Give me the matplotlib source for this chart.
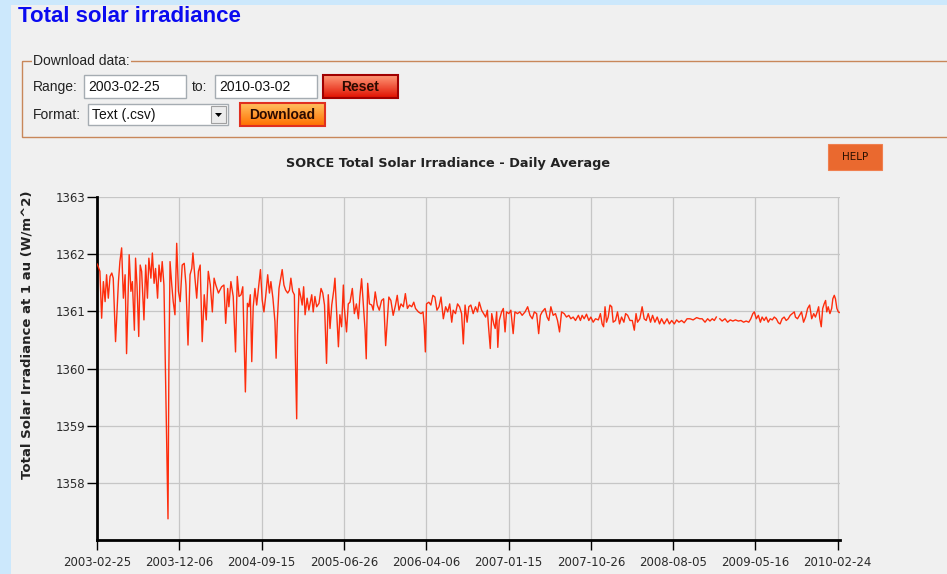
import numpy as np
import pandas as pd
import matplotlib
matplotlib.use('Agg')
import matplotlib.pyplot as plt
from matplotlib.colors import to_rgb
from matplotlib.patches import Rectangle, Polygon

# SORCE TSI daily average (days after 2003-02-25, W/m^2)
start = pd.Timestamp('2003-02-25')
end = pd.Timestamp('2010-03-02')

days = [
    0, 2, 10, 16, 22, 28, 33, 39, 45, 51, 56, 64, 74, 79, 85, 91, 97, 102, 108, 111,
    117, 122, 129, 133, 138, 144, 149, 154, 162, 168, 174, 179, 186, 191, 197, 202, 209, 214, 220, 225,
    231, 236, 240, 245, 248, 252, 258, 263, 269, 275, 281, 287, 294, 301, 307, 314, 321, 327, 331, 338,
    344, 350, 356, 363, 370, 377, 384, 391, 398, 404, 410, 419, 430, 438, 444, 451, 455, 462, 470, 478,
    484, 490, 497, 503, 512, 519, 524, 529, 534, 539, 545, 551, 557, 564, 570, 576, 582, 589, 595, 600,
    607, 614, 618, 622, 628, 634, 639, 645, 651, 658, 664, 669, 675, 681, 684, 689, 692, 697, 704, 708,
    713, 718, 725, 731, 741, 746, 752, 758, 766, 773, 779, 785, 792, 798, 804, 810, 817, 821, 827, 833,
    838, 844, 850, 853, 861, 867, 873, 881, 888, 895, 902, 907, 913, 919, 925, 929, 934, 940, 948, 953,
    960, 967, 974, 982, 989, 996, 1002, 1007, 1014, 1022, 1030, 1036, 1042, 1049, 1057, 1064, 1071, 1078, 1086, 1093,
    1099, 1109, 1118, 1125, 1129, 1133, 1137, 1145, 1152, 1159, 1166, 1173, 1180, 1187, 1195, 1203, 1210, 1217, 1224, 1229,
    1237, 1244, 1251, 1258, 1264, 1270, 1277, 1283, 1290, 1298, 1306, 1313, 1319, 1327, 1334, 1341, 1347, 1351, 1357, 1362,
    1369, 1374, 1379, 1383, 1388, 1396, 1402, 1408, 1413, 1421, 1428, 1436, 1442, 1451, 1459, 1467, 1477, 1486, 1494, 1502,
    1509, 1517, 1524, 1530, 1536, 1546, 1553, 1559, 1566, 1574, 1582, 1589, 1596, 1603, 1612, 1620, 1628, 1635, 1643, 1651,
    1661, 1668, 1674, 1681, 1689, 1697, 1704, 1712, 1720, 1730, 1737, 1743, 1748, 1753, 1758, 1764, 1770, 1776, 1781, 1789,
    1796, 1803, 1810, 1818, 1824, 1831, 1839, 1847, 1854, 1860, 1865, 1873, 1881, 1888, 1895, 1902, 1910, 1917, 1925, 1933,
    1941, 1948, 1957, 1967, 1975, 1983, 1992, 2000, 2008, 2017, 2026, 2036, 2046, 2057, 2069, 2080, 2088, 2098, 2107, 2115,
    2123, 2130, 2137, 2141, 2149, 2157, 2167, 2176, 2185, 2194, 2203, 2213, 2222, 2231, 2240, 2249, 2256, 2263, 2268, 2275,
    2282, 2289, 2295, 2302, 2309, 2316, 2323, 2330, 2337, 2344, 2351, 2357, 2364, 2371, 2378, 2385, 2392, 2399, 2406, 2410,
    2417, 2424, 2431, 2438, 2445, 2452, 2459, 2466, 2473, 2479, 2485, 2490, 2494, 2499, 2504, 2509, 2514, 2518, 2523, 2529,
    2535, 2539, 2544, 2548, 2553, 2558, 2561,
]

tsi = [
    1361.83, 1361.81, 1361.70, 1360.88, 1361.52, 1361.17, 1361.64, 1361.23, 1361.61, 1361.67,
    1361.58, 1360.47, 1361.52, 1361.87, 1362.11, 1361.23, 1361.64, 1360.26, 1361.46, 1361.99,
    1361.35, 1361.52, 1360.67, 1361.93, 1361.46, 1360.56, 1361.81, 1361.70, 1360.85, 1361.81,
    1361.23, 1361.93, 1361.58, 1362.02, 1361.49, 1361.75, 1361.23, 1361.81, 1361.52, 1361.87,
    1361.46, 1360.00, 1358.83, 1357.37, 1360.00, 1361.87, 1361.46, 1361.17, 1360.94, 1362.19,
    1361.35, 1361.17, 1361.81, 1361.84, 1361.46, 1360.41, 1361.64, 1361.75, 1362.02, 1361.58,
    1361.23, 1361.70, 1361.81, 1360.47, 1361.29, 1360.85, 1361.70, 1361.46, 1360.99, 1361.58,
    1361.46, 1361.32, 1361.43, 1361.46, 1360.79, 1361.40, 1361.08, 1361.52, 1361.26, 1360.29,
    1361.61, 1361.26, 1361.29, 1361.43, 1359.59, 1361.14, 1361.08, 1361.29, 1360.12, 1361.08,
    1361.40, 1361.11, 1361.40, 1361.73, 1361.20, 1360.99, 1361.26, 1361.64, 1361.32, 1361.52,
    1361.23, 1360.82, 1360.18, 1360.82, 1361.40, 1361.58, 1361.73, 1361.46, 1361.37, 1361.32,
    1361.37, 1361.58, 1361.35, 1361.29, 1360.29, 1359.12, 1360.58, 1361.40, 1361.23, 1361.11,
    1361.43, 1360.94, 1361.23, 1361.02, 1361.29, 1360.99, 1361.26, 1361.08, 1361.14, 1361.40,
    1361.32, 1361.11, 1360.09, 1361.29, 1360.70, 1361.11, 1361.37, 1361.58, 1360.99, 1360.38,
    1360.94, 1360.73, 1361.46, 1361.08, 1360.64, 1361.13, 1361.16, 1361.40, 1360.96, 1361.13,
    1360.87, 1361.25, 1361.57, 1361.13, 1360.67, 1360.17, 1361.49, 1361.13, 1361.11, 1361.02,
    1361.34, 1361.11, 1361.02, 1361.19, 1361.22, 1360.40, 1360.87, 1361.25, 1361.19, 1360.93,
    1361.11, 1361.28, 1361.02, 1361.13, 1361.08, 1361.31, 1361.05, 1361.11, 1361.08, 1361.16,
    1361.05, 1360.99, 1360.96, 1360.99, 1360.75, 1360.29, 1361.13, 1361.16, 1361.11, 1361.28,
    1361.25, 1361.02, 1361.08, 1361.25, 1360.87, 1361.08, 1360.99, 1361.13, 1360.81, 1361.02,
    1360.96, 1361.13, 1361.08, 1360.96, 1360.43, 1361.11, 1360.81, 1361.08, 1361.11, 1360.96,
    1361.08, 1360.99, 1361.16, 1361.02, 1360.96, 1360.90, 1361.02, 1360.73, 1360.35, 1360.96,
    1360.78, 1360.70, 1360.99, 1360.37, 1360.84, 1360.99, 1361.05, 1360.64, 1360.99, 1360.96,
    1361.02, 1360.61, 1360.99, 1360.96, 1360.99, 1360.93, 1360.99, 1361.08, 1360.93, 1360.87,
    1360.99, 1360.96, 1360.61, 1360.93, 1360.99, 1361.05, 1360.90, 1360.84, 1361.08, 1360.93,
    1360.96, 1360.84, 1360.64, 1360.99, 1360.96, 1360.90, 1360.93, 1360.87, 1360.90, 1360.84,
    1360.93, 1360.84, 1360.93, 1360.87, 1360.95, 1360.84, 1360.90, 1360.81, 1360.87, 1360.85,
    1360.96, 1360.78, 1360.73, 1361.08, 1360.81, 1360.90, 1361.11, 1361.08, 1360.81, 1360.84,
    1360.99, 1360.78, 1360.90, 1360.81, 1360.96, 1360.93, 1360.84, 1360.84, 1360.67, 1360.96,
    1360.81, 1360.87, 1361.08, 1360.87, 1360.84, 1360.96, 1360.81, 1360.93, 1360.81, 1360.90,
    1360.78, 1360.87, 1360.78, 1360.87, 1360.78, 1360.84, 1360.78, 1360.85, 1360.81, 1360.84,
    1360.80, 1360.87, 1360.87, 1360.85, 1360.89, 1360.87, 1360.87, 1360.81, 1360.87, 1360.83,
    1360.87, 1360.84, 1360.90, np.nan, 1360.87, 1360.83, 1360.87, 1360.81, 1360.85, 1360.83,
    1360.85, 1360.83, 1360.84, 1360.81, 1360.83, 1360.81, 1360.87, 1360.96, 1360.99, 1360.87,
    1360.93, 1360.81, 1360.90, 1360.84, 1360.90, 1360.81, 1360.87, 1360.85, 1360.90, 1360.87,
    1360.80, 1360.78, 1360.87, 1360.90, 1360.84, 1360.87, 1360.93, 1360.96, 1360.99, 1360.90,
    1360.87, 1360.93, 1360.99, 1360.81, 1360.90, 1361.05, 1361.11, 1360.87, 1360.96, 1360.90,
    1360.99, 1361.08, 1360.87, 1360.73, 1361.05, 1361.13, 1361.19, 1360.99, 1361.08, 1360.96,
    1361.05, 1361.22, 1361.28, 1361.22, 1361.05, 1360.99, 1360.98,
]

tick_labels = ['2003-02-25', '2003-12-06', '2004-09-15', '2005-06-26', '2006-04-06',
               '2007-01-15', '2007-10-26', '2008-08-05', '2009-05-16', '2010-02-24']
y_ticks = [1358, 1359, 1360, 1361, 1362, 1363]

dates = start + pd.to_timedelta(days, unit='D')

W, H = 947, 574
BG = '#F0F0F0'
fig = plt.figure(figsize=(W / 100, H / 100), dpi=100)
fig.patch.set_facecolor(BG)

# page furniture drawn in pixel coordinates
page = fig.add_axes([0, 0, 1, 1])
page.axis('off')
page.add_patch(Rectangle((0, 0), 11, H, color='#CCE8FC', lw=0))
page.add_patch(Rectangle((0, 0), W, 5, color='#CCE8FC', lw=0))
page.text(18, 16, 'Total solar irradiance', color='#0A0AF0', fontsize=16,
          fontweight='bold', family='Liberation Sans', va='center', ha='left')

UI = dict(fontsize=10, family='Liberation Sans', color='#222222', va='center')

# fieldset
page.add_patch(Rectangle((22, 61), W, 76, fill=False, ec='#C8875A', lw=1))
page.text(33, 61, 'Download data:', ha='left', bbox=dict(fc=BG, ec='none', pad=1), **UI)


def box(x0, y0, x1, y1, text=None):
    page.add_patch(Rectangle((x0, y0), x1 - x0, y1 - y0, fc='white', ec='#A5ACB2', lw=1))
    if text:
        page.text(x0 + 4, (y0 + y1) / 2 + 0.5, text, fontsize=10, family='Liberation Sans',
                  color='#111111', va='center', ha='left')


def button(x0, y0, x1, y1, top, bottom, edge, text):
    c0, c1 = np.array(to_rgb(top)), np.array(to_rgb(bottom))
    t = np.linspace(0, 1, 40)[:, None, None]
    img = c0 + (c1 - c0) * t
    page.imshow(img, extent=(x0, x1, y1, y0), aspect='auto', interpolation='bilinear', zorder=2)
    page.add_patch(Rectangle((x0, y0), x1 - x0, y1 - y0, fill=False, ec=edge, lw=1.5, zorder=3))
    page.text((x0 + x1) / 2, (y0 + y1) / 2 + 0.5, text, fontsize=10, family='Liberation Sans',
              fontweight='bold', color='#2A0A00', va='center', ha='center', zorder=4)


page.text(33, 87, 'Range:', **UI)
box(84, 75, 186, 98, '2003-02-25')
page.text(192, 87, 'to:', **UI)
box(215, 75, 317, 98, '2010-03-02')
button(323, 75, 398, 98, '#FF9A78', '#E01000', '#A00000', 'Reset')

page.text(33, 115, 'Format:', **UI)
box(88, 104, 228, 125, 'Text (.csv)')
page.add_patch(Rectangle((211, 106), 15, 17, fc='#ECECEC', ec='#A0A0A0', lw=0.8))
page.add_patch(Polygon([(215, 113), (222, 113), (218.5, 117)], closed=True, fc='black', ec='none'))
button(240, 103, 325, 126, '#FFC060', '#FF7000', '#E03020', 'Download')

# help button
page.add_patch(Rectangle((828, 144), 54, 26, fc='#EA692F', ec='#F08050', lw=0.8))
page.text(855, 157.5, 'HELP', fontsize=7.5, color='#2A1000', ha='center', va='center')

page.set_xlim(0, W)
page.set_ylim(H, 0)

# chart
ax = fig.add_axes([97 / W, (H - 540) / H, (839.5 - 97) / W, (540 - 197) / H])
ax.set_facecolor(BG)
ax.plot(dates, tsi, color='#FF2200', lw=1.0, alpha=0.95, zorder=3)

ax.set_xlim(start, end)
ax.set_ylim(1357, 1363)
ax.set_yticks(y_ticks)
ax.set_yticklabels([str(v) for v in y_ticks])
ax.set_xticks(pd.to_datetime(tick_labels))
ax.set_xticklabels(tick_labels)

ax.grid(True, color='#C6C6C6', lw=0.9, zorder=0)
for s in ['top', 'right']:
    ax.spines[s].set_visible(False)
for s in ['left', 'bottom']:
    ax.spines[s].set_linewidth(2)
    ax.spines[s].set_color('black')
ax.tick_params(axis='both', labelsize=8.5, labelcolor='#2A2A2A', length=7, width=1, direction='out')
ax.tick_params(axis='y', pad=1.5)
ax.tick_params(axis='x', pad=4.5)

fig.text(448 / W, 1 - 164 / H, 'SORCE Total Solar Irradiance - Daily Average',
         ha='center', va='center', fontsize=9.3, fontweight='bold', color='#222222')
fig.text(27 / W, 1 - 335 / H, 'Total Solar Irradiance at 1 au (W/m^2)', rotation=90,
         ha='center', va='center', fontsize=9.5, fontweight='bold', color='#222222')

fig.savefig('out.png', dpi=100, facecolor=fig.get_facecolor())
